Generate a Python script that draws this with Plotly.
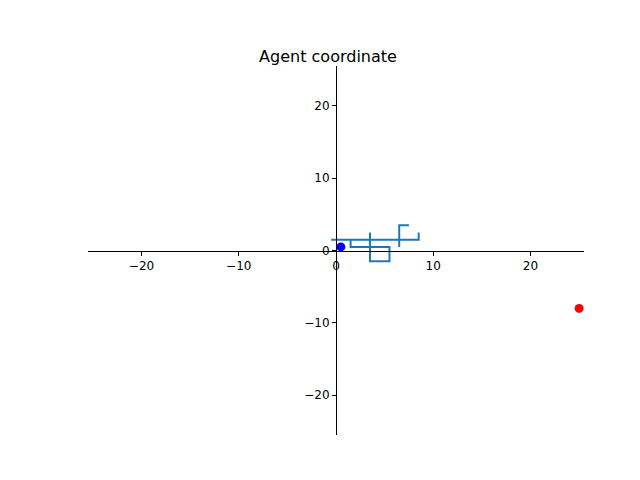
import plotly.graph_objects as go

# agent path (grid walk), start point and goal
path_x = [1.5, 1.5, 5.5, 5.5, 3.5, 3.5, 3.5, -0.5, 8.5, 8.5, 8.5, 6.5, 6.5, 7.5, 7.5, 6.5, 6.5]
path_y = [1.5, 0.5, 0.5, -1.5, -1.5, 2.5, 1.5, 1.5, 1.5, 2.5, 1.5, 1.5, 3.5, 3.5, 3.5, 3.5, 0.5]
agent_x = [0.5]
agent_y = [0.5]
goal_x = [25]
goal_y = [-8]

fig = go.Figure()
fig.add_trace(go.Scatter(x=path_x, y=path_y, mode='lines',
                         line=dict(color='#1f77b4', width=2)))
fig.add_trace(go.Scatter(x=agent_x, y=agent_y, mode='markers',
                         marker=dict(color='blue', size=9)))
fig.add_trace(go.Scatter(x=goal_x, y=goal_y, mode='markers',
                         marker=dict(color='red', size=9)))

axis_style = dict(
    range=[-25.5, 25.5], tickvals=[-20, -10, 0, 10, 20],
    showgrid=False, zeroline=False, showline=True, linecolor='black', linewidth=1,
    ticks='outside', ticklen=4, tickcolor='black',
    tickfont=dict(family='DejaVu Sans', size=12, color='black'),
    anchor='free', position=0.5, automargin=False,
)

fig.update_layout(
    width=640, height=480,
    title=dict(text='Agent coordinate', x=0.5, y=0.91, xanchor='center',
               font=dict(family='DejaVu Sans', size=16, color='black')),
    xaxis=axis_style, yaxis=axis_style,
    showlegend=False,
    paper_bgcolor='white', plot_bgcolor='white',
    margin=dict(l=80, r=64, t=58, b=53),
)

fig.write_html("out.html")
